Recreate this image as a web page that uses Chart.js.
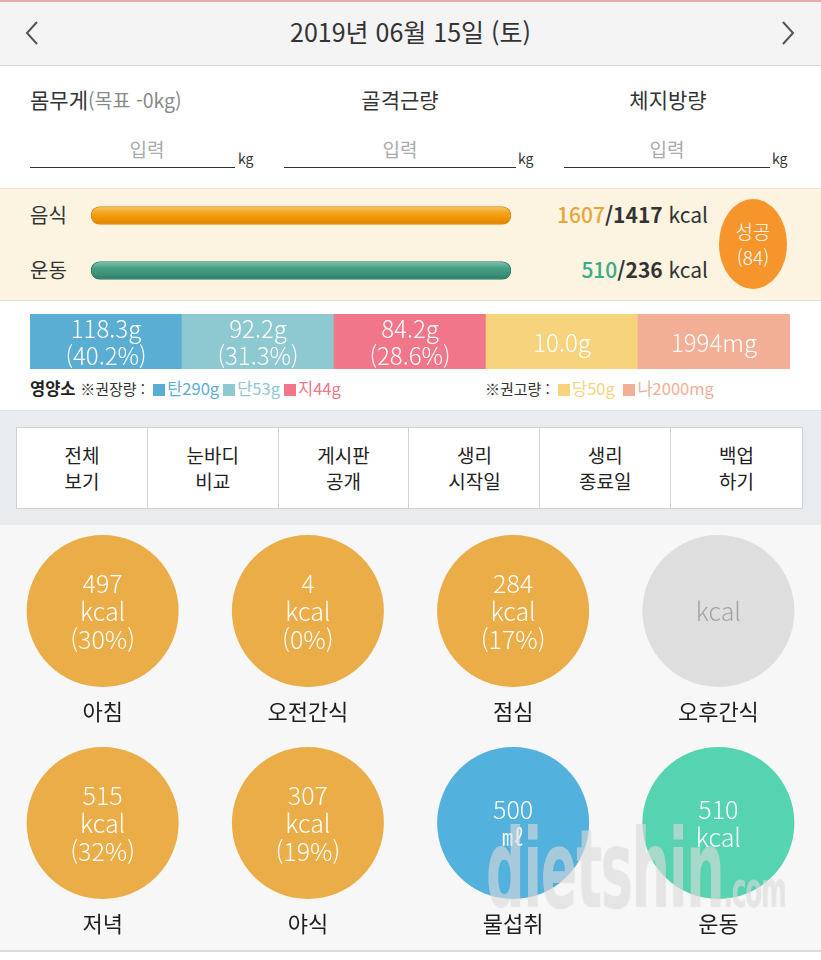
<!DOCTYPE html>
<html lang="ko">
<head>
<meta charset="utf-8">
<script src="https://cdn.jsdelivr.net/npm/chart.js@4.4.1/dist/chart.umd.min.js"></script>
<style>
  html, body { margin:0; padding:0; }
  body { width:821px; height:960px; position:relative; overflow:hidden; background:#fff;
         font-family:"Noto Sans CJK KR","Noto Sans",sans-serif; color:#333; }
  .abs { position:absolute; }
  .sec { position:absolute; left:0; width:821px; }
  .t { position:absolute; white-space:nowrap; line-height:1; }
  canvas { position:absolute; }
  .uline { position:absolute; height:1px; background:#333; }
  .cell { position:absolute; top:0; height:80px; border-right:1px solid #d4d4d4; box-sizing:border-box;
          display:flex; align-items:center; justify-content:center; text-align:center;
          font-size:19px; line-height:26px; color:#222; }
</style>
</head>
<body>
<!-- top pink line + header -->
<div class="sec" style="top:0;height:2px;background:#e7a9ae;"></div>
<div class="sec" style="top:2px;height:63px;background:#f4f4f4;border-bottom:1px solid #d6d6d6;"></div>
<div class="t" id="dateTitle" style="left:0;width:821px;text-align:center;top:19px;font-size:25px;color:#333;"></div>
<svg class="abs" style="left:24px;top:20px" width="16" height="26"><polyline points="13,2 3,13 13,24" fill="none" stroke="#555" stroke-width="2"/></svg>
<svg class="abs" style="left:780px;top:20px" width="16" height="26"><polyline points="3,2 13,13 3,24" fill="none" stroke="#555" stroke-width="2"/></svg>

<!-- body measure inputs -->
<div class="t" style="left:30px;top:89px;font-size:21px;color:#333;">몸무게<span style="font-size:19.5px;color:#8a8a8a;">(목표 -0kg)</span></div>
<div class="t" style="left:330px;width:140px;text-align:center;top:89px;font-size:21px;color:#333;">골격근량</div>
<div class="t" style="left:598px;width:140px;text-align:center;top:89px;font-size:21px;color:#333;">체지방량</div>
<div class="t" style="left:97px;width:100px;text-align:center;top:139px;font-size:19px;color:#aaa;">입력</div>
<div class="t" style="left:350px;width:100px;text-align:center;top:139px;font-size:19px;color:#aaa;">입력</div>
<div class="t" style="left:617px;width:100px;text-align:center;top:139px;font-size:19px;color:#aaa;">입력</div>
<div class="uline" style="left:30px;top:167px;width:205px;"></div>
<div class="uline" style="left:284px;top:167px;width:232px;"></div>
<div class="uline" style="left:564px;top:167px;width:206px;"></div>
<div class="t" style="left:238px;top:151px;font-size:14px;color:#333;">kg</div>
<div class="t" style="left:518px;top:151px;font-size:14px;color:#333;">kg</div>
<div class="t" style="left:772px;top:151px;font-size:14px;color:#333;">kg</div>

<!-- kcal section -->
<div class="sec" style="top:188px;height:111px;background:#fcf3e0;border-top:1px solid #ece3d0;border-bottom:1px solid #e6e1d6;"></div>
<div class="t" id="kcalName0" style="left:30px;top:205px;font-size:20px;color:#333;"></div>
<div class="t" id="kcalName1" style="left:30px;top:260px;font-size:20px;color:#333;"></div>
<div class="t" id="kcalText0" style="right:113px;top:204px;font-size:21px;color:#333;"></div>
<div class="t" id="kcalText1" style="right:113px;top:259px;font-size:21px;color:#333;"></div>
<div class="abs" style="left:719px;top:199px;width:68px;height:90px;border-radius:50%;background:#f6952b;"></div>
<div class="t" id="scoreText" style="left:719px;width:68px;text-align:center;top:218px;font-size:19px;line-height:26px;color:#fff;font-weight:300;"></div>
<canvas id="kcalChart" width="420" height="110" style="left:91px;top:188px;"></canvas>

<!-- nutrient section -->
<canvas id="nutChart" width="760" height="55" style="left:30px;top:314px;"></canvas>
<div class="t" id="nutLegend" style="left:30px;top:380px;font-size:16.5px;color:#333;"></div>
<div class="t" id="limitLegend" style="left:485px;top:380px;font-size:16.5px;color:#333;"></div>

<!-- button row -->
<div class="sec" style="top:410px;height:115px;background:#e9ecef;border-top:1px solid #e0e3e6;"></div>
<div class="abs" id="btnRow" style="left:16px;top:427px;width:787px;height:82px;background:#fff;border:1px solid #cfd2d5;box-sizing:border-box;"></div>

<!-- meals section -->
<div class="sec" style="top:525px;height:425px;background:#f7f7f7;border-bottom:2px solid #dcdcdc;"></div>
<canvas id="mealChart" width="821" height="445" style="left:0;top:505px;"></canvas>
<div class="t" style="left:486px;top:816px;font-family:'DejaVu Sans Condensed','DejaVu Sans',sans-serif;font-size:100px;font-weight:bold;color:rgba(255,255,255,0.42);transform:scale(0.6,1.08);transform-origin:0 0;letter-spacing:-2px;text-shadow:0 0 1px rgba(140,140,140,0.35);">dietshin<span style="font-size:46px;">.com</span></div>

<script>
// ---------------- data ----------------
const dateLabel = '2019년 06월 15일 (토)';
const kcalLabels = ['음식', '운동'];
const kcalActual = [1607, 510];
const kcalTarget = [1417, 236];
const kcalUnit = 'kcal';
const successScore = 84;

const nutrientNames = ['탄수화물', '단백질', '지방', '당', '나트륨'];
const nutrientValues = [118.3, 92.2, 84.2, 10.0, 1994];
const nutrientUnits = ['g', 'g', 'g', 'g', 'mg'];
const nutrientPercents = [40.2, 31.3, 28.6, null, null];
const nutrientCellFill = [1, 1, 1, 1, 1];
const recommendLabels = ['탄290g', '단53g', '지44g'];
const limitLabels = ['당50g', '나2000mg'];

const buttonLabels = [['전체','보기'], ['눈바디','비교'], ['게시판','공개'], ['생리','시작일'], ['생리','종료일'], ['백업','하기']];

const mealNames = ['아침', '오전간식', '점심', '오후간식', '저녁', '야식', '물섭취', '운동'];
const mealValues = [497, 4, 284, null, 515, 307, 500, 510];
const mealUnits = ['kcal', 'kcal', 'kcal', 'kcal', 'kcal', 'kcal', '㎖', 'kcal'];
const mealPercents = [30, 0, 17, null, 32, 19, null, null];
const mealKinds = ['meal', 'meal', 'meal', 'meal', 'meal', 'meal', 'water', 'exercise'];

// ---------------- styles ----------------
const FONT = '"Noto Sans CJK KR","Noto Sans",sans-serif';
const nutColors = ['#5baed3', '#8ec9d1', '#f17689', '#f6d37c', '#f2af95'];
const kindColors = { meal: '#eaad47', water: '#53b1dd', exercise: '#56d4b1', empty: '#dedede' };
const kcalNumColors = ['#e9a53a', '#3bab86'];

Chart.defaults.font.family = FONT;
Chart.defaults.animation = false;
Chart.defaults.plugins.legend.display = false;
Chart.defaults.plugins.tooltip.enabled = false;
Chart.defaults.events = [];

// ---------------- HTML text ----------------
document.getElementById('dateTitle').textContent = dateLabel;
kcalLabels.forEach((l, i) => {
  document.getElementById('kcalName' + i).textContent = l;
  document.getElementById('kcalText' + i).innerHTML =
    '<span style="font-weight:500;color:' + kcalNumColors[i] + '">' + kcalActual[i] + '</span>' +
    '<b style="font-weight:700;color:#333">/' + kcalTarget[i] + '</b> ' + kcalUnit;
});
document.getElementById('scoreText').innerHTML = '성공<br>(' + successScore + ')';

function sq(c) { return '<span style="display:inline-block;width:12px;height:12px;background:' + c + ';margin:0 2px 0 4px;vertical-align:-1px;"></span>'; }
document.getElementById('nutLegend').innerHTML =
  '<b style="font-weight:700;color:#222">영양소</b> <span style="font-size:15px">※권장량 : </span>' +
  recommendLabels.map((l, i) => sq(nutColors[i]) + '<span style="color:' + nutColors[i] + '">' + l + '</span>').join('');
document.getElementById('limitLegend').innerHTML =
  '<span style="font-size:15px">※권고량 : </span>' +
  limitLabels.map((l, i) => sq(nutColors[i + 3]) + '<span style="color:' + nutColors[i + 3] + '">' + l + '</span>').join(' ');

const btnRow = document.getElementById('btnRow');
buttonLabels.forEach((b, i) => {
  const d = document.createElement('div');
  d.className = 'cell';
  const w = 785 / buttonLabels.length;
  d.style.left = (i * w) + 'px';
  d.style.width = w + 'px';
  if (i === buttonLabels.length - 1) d.style.borderRight = 'none';
  d.innerHTML = b[0] + '<br>' + b[1];
  btnRow.appendChild(d);
});

// ---------------- kcal progress bars ----------------
const kcalPct = kcalActual.map((v, i) => Math.min(100, v / kcalTarget[i] * 100));
const barGrad = [
  ['#f9c868', '#f3a41c', '#ee9300', '#dc8200'],
  ['#80c8b0', '#469f85', '#3b917a', '#2e7a66']
];
new Chart(document.getElementById('kcalChart'), {
  type: 'bar',
  data: {
    labels: kcalLabels,
    datasets: [{
      data: kcalPct,
      barThickness: 18,
      borderRadius: 9,
      borderSkipped: false,
      borderWidth: 1,
      borderColor: ['#d98a10', '#2f7d68'],
      backgroundColor: (ctx) => {
        const chart = ctx.chart;
        const area = chart.chartArea;
        const c = barGrad[ctx.dataIndex];
        if (!area) return c[1];
        const band = (area.bottom - area.top) / kcalLabels.length;
        const yc = area.top + band * (ctx.dataIndex + 0.5);
        if (!isFinite(yc)) return c[1];
        const g = chart.ctx.createLinearGradient(0, yc - 9, 0, yc + 9);
        g.addColorStop(0, c[0]);
        g.addColorStop(0.35, c[1]);
        g.addColorStop(0.7, c[2]);
        g.addColorStop(1, c[3]);
        return g;
      }
    }]
  },
  options: {
    indexAxis: 'y',
    responsive: false,
    devicePixelRatio: 1,
    layout: { padding: 0, autoPadding: false },
    scales: {
      x: { display: false, min: 0, max: 100 },
      y: { display: false }
    }
  }
});

// ---------------- nutrient cells ----------------
const nutTextPlugin = {
  id: 'nutText',
  afterDatasetsDraw(chart) {
    const ctx = chart.ctx;
    const meta = chart.getDatasetMeta(0);
    ctx.save();
    ctx.fillStyle = '#fff';
    ctx.textAlign = 'center';
    ctx.textBaseline = 'middle';
    ctx.font = '300 24px ' + FONT;
    meta.data.forEach((el, i) => {
      const cy = (el.y + el.base) / 2;
      const amount = nutrientValues[i].toFixed(nutrientUnits[i] === 'g' ? 1 : 0) + nutrientUnits[i];
      if (nutrientPercents[i] !== null) {
        ctx.fillText(amount, el.x, cy - 13);
        ctx.fillText('(' + nutrientPercents[i].toFixed(1) + '%)', el.x, cy + 14);
      } else {
        ctx.fillText(amount, el.x, cy + 1);
      }
    });
    ctx.restore();
  }
};
new Chart(document.getElementById('nutChart'), {
  type: 'bar',
  data: {
    labels: nutrientNames,
    datasets: [{
      data: nutrientCellFill,
      backgroundColor: nutColors,
      borderWidth: 0,
      barPercentage: 1,
      categoryPercentage: 1
    }]
  },
  options: {
    responsive: false,
    devicePixelRatio: 1,
    layout: { padding: 0, autoPadding: false },
    scales: {
      x: { display: false },
      y: { display: false, min: 0, max: 1 }
    }
  },
  plugins: [nutTextPlugin]
});

// ---------------- meal circles ----------------
const COLS = 4;
const mealPoints = mealNames.map((n, i) => ({ x: (i % COLS) + 0.5, y: Math.floor(i / COLS) + 0.5 }));
const mealColors = mealValues.map((v, i) => v === null ? kindColors.empty : kindColors[mealKinds[i]]);
const mealTextPlugin = {
  id: 'mealText',
  afterDatasetsDraw(chart) {
    const ctx = chart.ctx;
    const meta = chart.getDatasetMeta(0);
    ctx.save();
    ctx.textAlign = 'center';
    ctx.textBaseline = 'middle';
    meta.data.forEach((el, i) => {
      const x = el.x, y = el.y;
      const v = mealValues[i];
      if (v === null) {
        ctx.fillStyle = '#a3a3a3';
        ctx.font = '300 25px ' + FONT;
        ctx.fillText(mealUnits[i], x, y);
      } else {
        ctx.fillStyle = '#fff';
        ctx.font = '300 25px ' + FONT;
        if (mealPercents[i] !== null) {
          ctx.fillText(String(v), x, y - 28);
          ctx.fillText(mealUnits[i], x, y);
          ctx.fillText('(' + mealPercents[i] + '%)', x, y + 28);
        } else if (mealUnits[i] === '㎖') {
          ctx.fillText(String(v), x, y - 14);
          ctx.font = '22px ' + FONT;
          ctx.fillText(mealUnits[i], x, y + 14);
        } else {
          ctx.fillText(String(v), x, y - 14);
          ctx.fillText(mealUnits[i], x, y + 14);
        }
      }
      ctx.fillStyle = '#1e1e1e';
      ctx.font = '22px ' + FONT;
      ctx.fillText(mealNames[i], x, y + 101);
    });
    ctx.restore();
  }
};
new Chart(document.getElementById('mealChart'), {
  type: 'scatter',
  data: {
    datasets: [{
      data: mealPoints,
      pointRadius: 76,
      pointHoverRadius: 76,
      pointBackgroundColor: mealColors,
      pointBorderWidth: 0,
      clip: false
    }]
  },
  options: {
    responsive: false,
    devicePixelRatio: 1,
    layout: { padding: { top: 0, bottom: 21, left: 0, right: 0 }, autoPadding: false },
    scales: {
      x: { display: false, min: 0, max: COLS },
      y: { display: false, min: 0, max: 2, reverse: true }
    }
  },
  plugins: [mealTextPlugin]
});
</script>
</body>
</html>
